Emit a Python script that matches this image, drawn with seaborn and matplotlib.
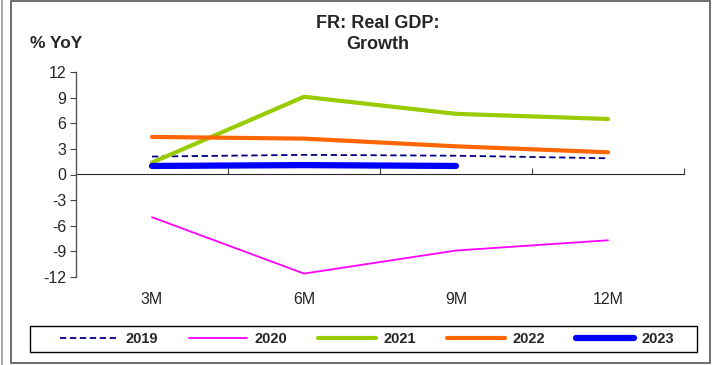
import numpy as np
import pandas as pd
import matplotlib
matplotlib.use("Agg")
import matplotlib.pyplot as plt
import seaborn as sns
from matplotlib.patches import Rectangle

sns.set_style("white")
plt.rcParams["font.family"] = ["Liberation Sans", "DejaVu Sans"]
plt.rcParams["axes.unicode_minus"] = False

# data
periods = ["3M", "6M", "9M", "12M"]
y2019 = [2.1, 2.3, 2.2, 1.9]
y2020 = [-5.0, -11.6, -8.9, -7.7]
y2021 = [1.4, 9.1, 7.1, 6.5]
y2022 = [4.4, 4.2, 3.3, 2.6]
y2023 = [1.0, 1.1, 1.0]

series = {"2019": y2019, "2020": y2020, "2021": y2021, "2022": y2022, "2023": y2023}
rows = []
for year, vals in series.items():
    for p, v in zip(periods, vals):
        rows.append({"period": p, "year": year, "value": v})
df = pd.DataFrame(rows)
df["pos"] = df["period"].map({p: i for i, p in enumerate(periods)})

styles = {
    "2019": dict(color="#000080", lw=1.3, ls=(0, (3.5, 2))),
    "2020": dict(color="#FF00FF", lw=1.3, ls="-"),
    "2021": dict(color="#99CC00", lw=3.0, ls="-"),
    "2022": dict(color="#FF6600", lw=3.0, ls="-"),
    "2023": dict(color="#0000FF", lw=4.5, ls="-"),
}

fig = plt.figure(figsize=(7.12, 3.65), dpi=100)
ax = fig.add_axes([76 / 712, 1 - 277 / 365, (684 - 76) / 712, (277 - 72) / 365])

for year in series:
    st = styles[year]
    sub = df[df["year"] == year]
    sns.lineplot(data=sub, x="pos", y="value", ax=ax, color=st["color"],
                 linewidth=st["lw"], linestyle=st["ls"], label=year,
                 sort=False, legend=False, solid_capstyle="round")

ax.set_xlim(-0.5, len(periods) - 0.5)
ax.set_ylim(-12, 12)
ax.set_yticks(np.arange(-12, 13, 3))
ax.set_xticks(range(len(periods)))
ax.set_xticklabels(periods)
ax.set_xlabel("")
ax.set_ylabel("")
ax.tick_params(axis="x", length=0, pad=11, labelsize=11.5)
ax.tick_params(axis="y", length=4, width=0.8, color="#444444", direction="out",
               left=True, labelsize=11.5, pad=3)
for s in ["top", "right", "bottom"]:
    ax.spines[s].set_visible(False)
ax.spines["left"].set_color("#555555")
ax.spines["left"].set_linewidth(1.0)

# zero axis with tick marks between categories
sec = ax.secondary_xaxis(0.5)
sec.set_xticks(np.arange(0.5, len(periods), 1.0))
sec.set_xticklabels([])
sec.tick_params(length=4, width=0.8, color="#444444", direction="out")
sec.spines["bottom"].set_color("#555555")
sec.spines["bottom"].set_linewidth(1.0)

fig.text(378 / 712, 1 - 34 / 365, "FR: Real GDP:\nGrowth", ha="center", va="center",
         fontsize=13, fontweight="bold", linespacing=1.3)
fig.text(30 / 712, 1 - 44 / 365, "% YoY", ha="left", va="center",
         fontsize=12.5, fontweight="bold")

handles, labels = ax.get_legend_handles_labels()
leg = fig.legend(handles, labels, loc="center", ncol=5,
                 bbox_to_anchor=(367 / 712, 1 - 339 / 365),
                 frameon=False, handlelength=4.0, handletextpad=0.5,
                 columnspacing=2.1, prop={"weight": "bold", "size": 10.5})

# legend box and outer frame
fig.patches.append(Rectangle((30 / 712, 1 - 352 / 365), (697 - 30) / 712, 26 / 365,
                             transform=fig.transFigure, fill=False,
                             edgecolor="black", linewidth=1.0))
fig.patches.append(Rectangle((11 / 712, 1 - 363 / 365), (710 - 11) / 712, 362 / 365,
                             transform=fig.transFigure, fill=False,
                             edgecolor="#555555", linewidth=1.2))
fig.patches.append(Rectangle((2 / 712, 0), 0, 1, transform=fig.transFigure,
                             fill=False, edgecolor="#999999", linewidth=1.2))

fig.savefig("out.png", dpi=100)
